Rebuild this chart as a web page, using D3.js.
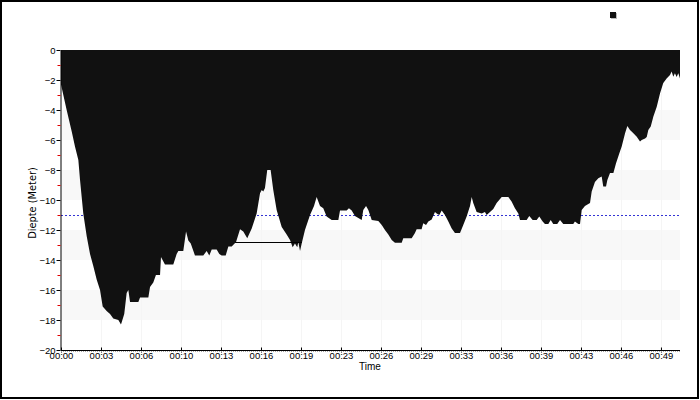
<!DOCTYPE html>
<html><head><meta charset="utf-8">
<script src="https://cdn.jsdelivr.net/npm/d3@7"></script>
<style>html,body{margin:0;padding:0;background:#fff;}svg{display:block;}</style>
</head><body>
<script>
// time in minutes, depth in meters (negative)
const times = [0,0.47,0.89,1.16,1.44,1.58,1.85,2.13,2.41,2.68,2.96,3.24,3.46,3.79,4.07,4.34,4.76,4.98,5.25,5.45,5.59,5.73,6.42,6.56,7.25,7.39,7.66,7.88,8.22,8.30,8.63,9.32,9.60,9.74,10.15,10.38,10.57,10.77,11.12,11.81,12.09,12.31,12.51,12.92,13.14,13.34,13.67,13.89,14.17,14.53,14.86,15.13,15.46,15.83,16.24,16.52,16.66,16.79,16.93,17.12,17.40,17.62,17.90,18.32,18.73,19.01,19.23,19.42,19.61,19.70,19.84,19.98,20.25,20.67,21.00,21.22,21.50,21.77,22.05,22.47,23.02,23.16,23.71,23.90,24.13,24.40,24.96,25.09,25.32,25.51,25.79,26.34,26.62,26.89,27.17,27.45,27.72,28.28,28.41,29.11,29.38,29.52,29.93,30.07,30.30,30.49,30.77,31.04,31.18,31.40,31.60,31.87,32.15,32.43,32.70,33.12,33.39,33.67,33.95,34.09,34.22,34.50,34.92,35.19,35.33,35.61,35.88,36.16,36.58,37.13,37.40,37.68,37.96,38.10,38.65,38.87,39.15,39.48,39.70,39.98,40.17,40.45,40.65,40.86,41.19,41.42,41.69,42.52,42.66,42.94,43.08,43.22,43.49,43.91,44.05,44.32,44.60,44.88,45.01,45.24,45.35,45.57,45.85,46.07,46.34,46.54,46.82,47.01,47.23,47.51,47.79,48.06,48.20,48.48,48.62,48.75,48.95,49.17,49.45,49.72,49.99,50.27,50.55,50.69,50.82,50.96,51.10,51.24,51.38];
const depths = [-2.3,-4.0,-5.44,-6.44,-7.33,-8.67,-10.9,-12.4,-13.6,-14.4,-15.3,-16.0,-17.1,-17.4,-17.6,-17.9,-18.0,-18.3,-17.6,-16.2,-16.0,-16.8,-16.8,-16.5,-16.5,-15.8,-15.5,-15.0,-15.0,-13.8,-14.3,-14.3,-13.6,-13.4,-13.4,-12.1,-12.7,-12.9,-13.7,-13.7,-13.4,-13.7,-13.3,-13.3,-13.6,-13.7,-13.7,-13.1,-13.1,-12.8,-11.95,-12.1,-12.55,-11.9,-10.9,-9.55,-9.33,-9.44,-9.2,-8.0,-8.0,-9.33,-10.67,-11.8,-12.3,-12.67,-13.15,-12.9,-13.15,-12.8,-13.4,-12.9,-12.0,-11.0,-10.4,-9.8,-10.4,-10.55,-11.1,-11.33,-11.33,-10.7,-10.7,-10.55,-10.7,-11.07,-11.33,-10.67,-10.4,-10.67,-11.33,-11.4,-11.67,-12.0,-12.3,-12.67,-12.85,-12.85,-12.55,-12.55,-12.2,-11.95,-11.95,-11.55,-11.67,-11.44,-11.3,-10.8,-10.9,-11.0,-10.7,-11.0,-11.44,-11.9,-12.2,-12.2,-11.67,-11.1,-10.4,-9.8,-10.2,-10.8,-10.9,-10.8,-11.0,-10.8,-10.6,-10.2,-9.8,-9.8,-10.1,-10.55,-10.9,-11.33,-11.33,-11.07,-11.33,-11.33,-11.1,-11.44,-11.6,-11.6,-11.33,-11.6,-11.6,-11.33,-11.6,-11.6,-11.44,-11.6,-11.6,-10.67,-10.4,-10.2,-9.44,-8.8,-8.55,-8.44,-9.1,-9.1,-8.67,-8.2,-8.2,-7.55,-6.9,-6.44,-5.55,-5.07,-5.33,-5.55,-5.78,-6.1,-6.0,-5.9,-5.8,-5.33,-5.1,-4.44,-3.78,-2.9,-2.2,-1.9,-1.67,-1.44,-1.78,-1.55,-1.8,-1.55,-1.9];
const xTickLabels = ["00:00","00:03","00:06","00:10","00:13","00:16","00:19","00:23","00:26","00:29","00:33","00:36","00:39","00:43","00:46","00:49"];
const xTickStep = 3.32;       // minutes between labelled ticks
const xDomainMax = 51.38;     // minutes
const yMajorTicks = [0,-2,-4,-6,-8,-10,-12,-14,-16,-18,-20];
const yMinorTicks = [-1,-3,-5,-7,-9,-11,-13,-15,-17,-19];
const bandRanges = [[-4,-6],[-8,-10],[-12,-14],[-16,-18]];
const referenceDepth = -11;
const avgSegment = {t0: 14.45, t1: 20.0, depth: -12.8};

const W = 700, H = 400;
const svg = d3.select("body").append("svg").attr("width", W).attr("height", H);
svg.append("rect").attr("x",0).attr("y",0).attr("width",W).attr("height",H).attr("fill","#fff");

const x = d3.scaleLinear().domain([0, xDomainMax]).range([61, 680]);
const y = d3.scaleLinear().domain([-20, 0]).range([350, 50]);

// bands
svg.append("g").selectAll("rect").data(bandRanges).join("rect")
  .attr("x", x(0)).attr("width", x(xDomainMax) - x(0))
  .attr("y", d => y(d[0])).attr("height", d => y(d[1]) - y(d[0]))
  .attr("fill", "#f8f8f8");

// faint vertical grid
const xTickVals = xTickLabels.map((_, i) => i * xTickStep);
svg.append("g").selectAll("line").data(xTickVals.slice(1)).join("line")
  .attr("x1", d => Math.round(x(d)) + 0.5).attr("x2", d => Math.round(x(d)) + 0.5)
  .attr("y1", y(0)).attr("y2", y(-20))
  .attr("stroke", "#f5f5f5").attr("stroke-width", 1);

// reference line
svg.append("line")
  .attr("x1", x(0)).attr("x2", x(xDomainMax))
  .attr("y1", y(referenceDepth) + 0.5).attr("y2", y(referenceDepth) + 0.5)
  .attr("stroke", "#3434d4").attr("stroke-width", 1).attr("stroke-dasharray", "2,2");

// area
const data = times.map((t, i) => ({t, d: depths[i]}));
const area = d3.area().x(p => x(p.t)).y0(y(0)).y1(p => y(p.d)).curve(d3.curveLinear);
svg.append("path").datum(data).attr("d", area).attr("fill", "#111111");

// segment line
svg.append("line")
  .attr("x1", x(avgSegment.t0)).attr("x2", x(avgSegment.t1))
  .attr("y1", y(avgSegment.depth) + 0.5).attr("y2", y(avgSegment.depth) + 0.5)
  .attr("stroke", "#000").attr("stroke-width", 1);

const tickFont = "'Liberation Sans', Arial, sans-serif";

// x axis
const xAxis = d3.axisBottom(x).tickValues(xTickVals).tickFormat((d, i) => xTickLabels[i]).tickSizeOuter(0);
const gx = svg.append("g").attr("transform", "translate(0,350.5)").call(xAxis);
gx.select(".domain").attr("stroke", "#000").attr("d", `M${x(0)},0H${x(xDomainMax)}`);
gx.selectAll(".tick line").attr("y1", -3).attr("y2", 2).attr("stroke", "#000");
gx.selectAll(".tick text").attr("y", 2).attr("dy", "0.71em")
  .attr("font-family", tickFont).attr("font-size", "9.5px").attr("fill", "#000");
svg.append("line").attr("x1", x(0)).attr("x2", x(xDomainMax)).attr("y1", 351.5).attr("y2", 351.5)
  .attr("stroke", "#aaa").attr("stroke-dasharray", "1,1");

// y axis
const yAxis = d3.axisLeft(y).tickValues(yMajorTicks).tickFormat(d3.format("d")).tickSize(4).tickSizeOuter(0);
const gy = svg.append("g").attr("transform", "translate(60.5,0)").call(yAxis);
gy.select(".domain").attr("stroke", "#000");
gy.selectAll(".tick line").attr("stroke", "#000");
gy.selectAll(".tick text").attr("x", -5)
  .attr("font-family", tickFont).attr("font-size", "9.5px").attr("fill", "#000");
gy.selectAll(".minor").data(yMinorTicks).join("line").attr("class", "minor")
  .attr("x1", -3).attr("x2", 0).attr("y1", d => y(d) + 0.5).attr("y2", d => y(d) + 0.5)
  .attr("stroke", "#e00000");

// axis titles
svg.append("text").attr("x", 370).attr("y", 370).attr("text-anchor", "middle")
  .attr("font-family", tickFont).attr("font-size", "10px").text("Time");
svg.append("text").attr("transform", "translate(36,203) rotate(-90)").attr("text-anchor", "middle")
  .attr("font-family", "'DejaVu Sans', sans-serif").attr("font-size", "9.8px").text("Diepte (Meter)");

// legend marker
svg.append("rect").attr("x", 611).attr("y", 13).attr("width", 6).attr("height", 6).attr("fill", "#bbb");
svg.append("rect").attr("x", 610).attr("y", 12).attr("width", 6).attr("height", 6).attr("fill", "#111");

// outer border
svg.append("rect").attr("x", 1).attr("y", 1).attr("width", 697).attr("height", 397)
  .attr("fill", "none").attr("stroke", "#000").attr("stroke-width", 2);
</script>
</body></html>
